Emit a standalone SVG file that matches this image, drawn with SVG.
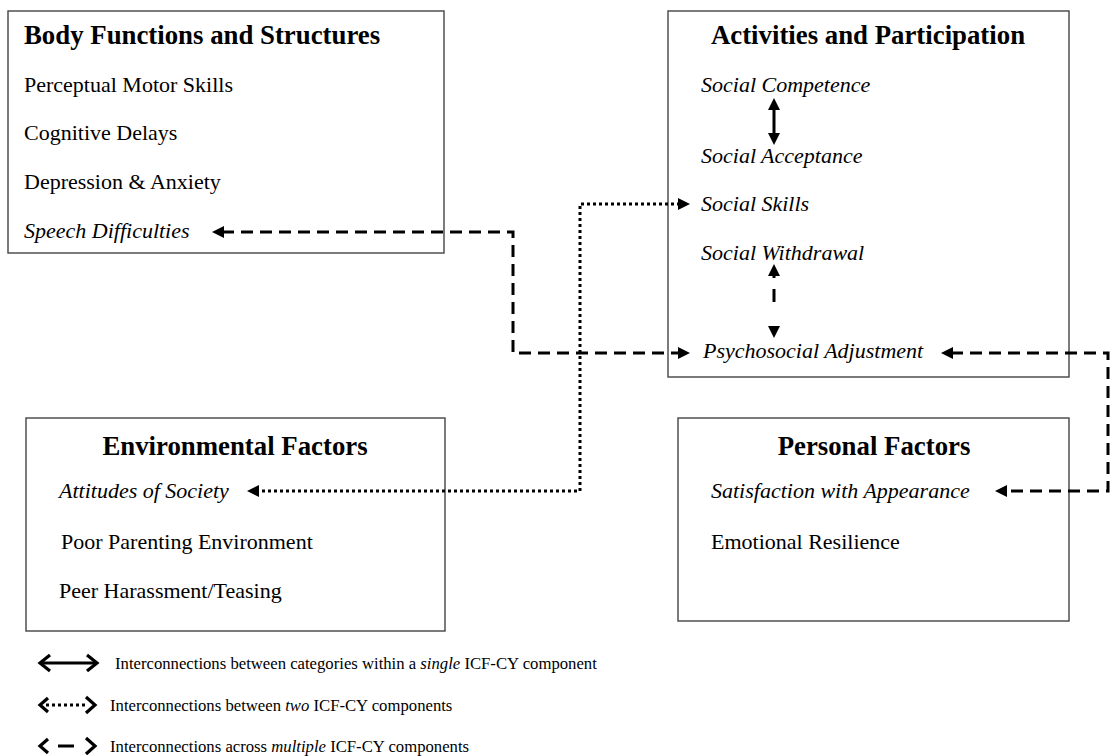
<svg xmlns="http://www.w3.org/2000/svg" width="1112" height="756" viewBox="0 0 1112 756">
<style>
.box{fill:#fff;stroke:#444;stroke-width:1.4}
.t{font-family:"Liberation Serif","Times New Roman",serif;fill:#000}
.title{font-size:26.8px;font-weight:bold}
.item{font-size:22px}
.it{font-style:italic}
.leg{font-size:16.7px}
.conn{fill:none;stroke:#000;stroke-width:3}
.dash{stroke-dasharray:12 7}
.dot{stroke-dasharray:3 3}
.chev{fill:none;stroke:#000;stroke-width:3.2;stroke-linejoin:miter}
</style>
<defs>
<marker id="tri" viewBox="0 0 12 12" refX="2" refY="6" markerWidth="12" markerHeight="12" markerUnits="userSpaceOnUse" orient="auto-start-reverse">
<path d="M0,0 L12,6 L0,12 z" fill="#000"/>
</marker>
</defs>
<rect width="1112" height="756" fill="#fff"/>

<g id="body-functions">
<rect class="box" x="8" y="11" width="436" height="242"/>
<text class="t title" x="24" y="44">Body Functions and Structures</text>
<text class="t item" x="24" y="92">Perceptual Motor Skills</text>
<text class="t item" x="24" y="140">Cognitive Delays</text>
<text class="t item" x="24" y="189">Depression &amp; Anxiety</text>
<text class="t item it" x="24" y="238">Speech Difficulties</text>
</g>

<g id="activities">
<rect class="box" x="668" y="11" width="401" height="366"/>
<text class="t title" x="868" y="44" text-anchor="middle">Activities and Participation</text>
<text class="t item it" x="701" y="92">Social Competence</text>
<text class="t item it" x="701" y="163">Social Acceptance</text>
<text class="t item it" x="701" y="211">Social Skills</text>
<text class="t item it" x="701" y="260">Social Withdrawal</text>
<text class="t item it" x="703" y="358">Psychosocial Adjustment</text>
</g>

<g id="environmental">
<rect class="box" x="26" y="418" width="419" height="213"/>
<text class="t title" x="235" y="455" text-anchor="middle">Environmental Factors</text>
<text class="t item it" x="59" y="498">Attitudes of Society</text>
<text class="t item" x="61" y="549">Poor Parenting Environment</text>
<text class="t item" x="59" y="598">Peer Harassment/Teasing</text>
</g>

<g id="personal">
<rect class="box" x="678" y="418" width="391" height="203"/>
<text class="t title" x="874" y="455" text-anchor="middle">Personal Factors</text>
<text class="t item it" x="711" y="498">Satisfaction with Appearance</text>
<text class="t item" x="711" y="549">Emotional Resilience</text>
</g>

<g id="connectors">
<path class="conn dash" d="M222,232 H513 V353 H680" marker-start="url(#tri)" marker-end="url(#tri)"/>
<path class="conn dot" d="M680,204 H580 V491 H257" marker-start="url(#tri)" marker-end="url(#tri)"/>
<path class="conn dash" d="M951,353 H1108 V491 H1005" marker-start="url(#tri)" marker-end="url(#tri)"/>
<path class="conn" d="M774,108 V135" marker-start="url(#tri)" marker-end="url(#tri)"/>
<path class="conn" d="M774,274 V328" stroke-dasharray="4 11 13 30" marker-start="url(#tri)" marker-end="url(#tri)"/>
</g>

<g id="legend">
<line class="conn" x1="41" y1="663" x2="96" y2="663"/>
<polyline class="chev" points="50,655 40,663 50,671"/>
<polyline class="chev" points="87,655 97,663 87,671"/>
<text class="t leg" x="115" y="669">Interconnections between categories within a <tspan font-style="italic">single</tspan> ICF-CY component</text>

<line class="conn dot" x1="46" y1="705" x2="86" y2="705"/>
<polyline class="chev" points="48,698 40,705 48,712"/>
<polyline class="chev" points="86,697 95,705 86,713"/>
<text class="t leg" x="110" y="711">Interconnections between <tspan font-style="italic">two</tspan> ICF-CY components</text>

<line class="conn" x1="58" y1="746" x2="74" y2="746"/>
<polyline class="chev" points="48,739 40,746 48,753"/>
<polyline class="chev" points="86,738 95,746 86,754"/>
<text class="t leg" x="110" y="752">Interconnections across <tspan font-style="italic">multiple</tspan> ICF-CY components</text>
</g>
</svg>
